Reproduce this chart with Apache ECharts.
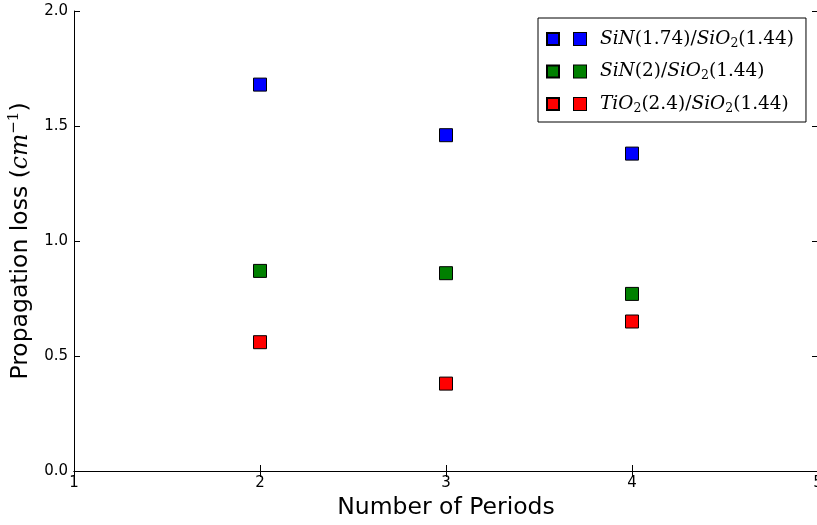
<!DOCTYPE html>
<html><head><meta charset="utf-8">
<script src="https://cdn.jsdelivr.net/npm/echarts@6/dist/echarts.min.js"></script>
<style>html,body{margin:0;padding:0;background:#fff}#c{width:817px;height:525px}</style>
</head><body><div id="c"></div>
<script>
const periods = [2, 3, 4];
const sin174 = [1.68, 1.46, 1.38];
const sin2 = [0.87, 0.86, 0.77];
const tio2 = [0.56, 0.38, 0.65];
const seriesNames = ['SiN(1.74)/SiO2(1.44)', 'SiN(2)/SiO2(1.44)', 'TiO2(2.4)/SiO2(1.44)'];
const colors = ['#0000ff', '#008000', '#ff0000'];
const xTicks = [1, 2, 3, 4, 5];
const yTicks = [0.0, 0.5, 1.0, 1.5, 2.0];

const legendRich = {
  sp: {width: 10, height: 20, lineHeight: 20},
  sp2: {width: 14, height: 20, lineHeight: 20},
  it: {fontFamily: 'DejaVu Serif', fontStyle: 'italic', fontSize: 18.5, color: '#000', lineHeight: 20},
  n: {fontFamily: 'DejaVu Serif', fontSize: 18.5, color: '#000', lineHeight: 20},
  sub: {fontFamily: 'DejaVu Serif', fontSize: 12.5, color: '#000', padding: [9, 0, 0, 0], lineHeight: 20}
};
colors.forEach((c, i) => {
  legendRich['sq' + i] = {width: 12, height: 12, backgroundColor: c, borderColor: '#000', borderWidth: 1};
});
function legendText(name) {
  const i = seriesNames.indexOf(name);
  const sq = '{sp|}{sq' + i + '|}{sp2|}';
  if (i === 0) return sq + '{it|SiN}{n|(1.74)/}{it|SiO}{sub|2}{n|(1.44)}';
  if (i === 1) return sq + '{it|SiN}{n|(2)/}{it|SiO}{sub|2}{n|(1.44)}';
  return sq + '{it|TiO}{sub|2}{n|(2.4)/}{it|SiO}{sub|2}{n|(1.44)}';
}

const tickFont = {fontFamily: 'DejaVu Sans', fontSize: 15, color: '#000'};
const axisLine = {show: true, lineStyle: {color: '#000', width: 1}};
const axisTick = {show: true, inside: true, length: 6, lineStyle: {color: '#000', width: 1}};

const chart = echarts.init(document.getElementById('c'), null, {renderer: 'canvas'});
const dataSets = [sin174, sin2, tio2];
chart.setOption({
  animation: false,
  backgroundColor: '#fff',
  grid: {left: 74, top: 11, width: 744, height: 460, containLabel: false, outerBoundsMode: 'none'},
  legend: {
    orient: 'vertical', left: 538, top: 18,
    padding: [10, 12, 7, 8], itemGap: 10.5,
    itemWidth: 12, itemHeight: 12,
    borderColor: '#000', borderWidth: 1, backgroundColor: '#fff',
    data: seriesNames.map(n => ({name: n, icon: 'rect'})),
    formatter: legendText,
    textStyle: {rich: legendRich}
  },
  xAxis: [{
    type: 'value', min: 1, max: 5, interval: 1,
    axisLine, axisTick, splitLine: {show: false},
    axisLabel: Object.assign({margin: 5, formatter: v => xTicks.includes(v) ? String(v) : ''}, tickFont),
    name: 'Number of Periods', nameLocation: 'middle', nameGap: 24,
    nameTextStyle: {fontFamily: 'DejaVu Sans', fontSize: 23.5, color: '#000'}
  }, {
    type: 'value', min: 1, max: 5, interval: 1, position: 'top',
    axisLine, axisTick, axisLabel: {show: false}, splitLine: {show: false}
  }],
  yAxis: [{
    type: 'value', min: 0, max: 2, interval: 0.5,
    axisLine, axisTick, splitLine: {show: false},
    axisLabel: Object.assign({margin: 6, formatter: v => yTicks.includes(v) ? v.toFixed(1) : ''}, tickFont),
    name: '{n|Propagation loss (}{it|cm}{sup|−1}{n|)}', nameLocation: 'middle', nameGap: 35, nameRotate: 90,
    nameTextStyle: {rich: {
      n: {fontFamily: 'DejaVu Sans', fontSize: 23.5, color: '#000'},
      it: {fontFamily: 'DejaVu Serif', fontStyle: 'italic', fontSize: 23.5, color: '#000'},
      sup: {fontFamily: 'DejaVu Serif', fontSize: 15, color: '#000', padding: [0, 0, 14, 0]}
    }}
  }, {
    type: 'value', min: 0, max: 2, interval: 0.5, position: 'right',
    axisLine, axisTick, axisLabel: {show: false}, splitLine: {show: false}
  }],
  series: dataSets.map((d, i) => ({
    name: seriesNames[i], type: 'scatter', symbol: 'rect', symbolSize: 13,
    itemStyle: {color: colors[i], borderColor: '#000', borderWidth: 1, opacity: 1},
    data: periods.map((p, j) => [p, d[j]])
  }))
});
</script></body></html>
